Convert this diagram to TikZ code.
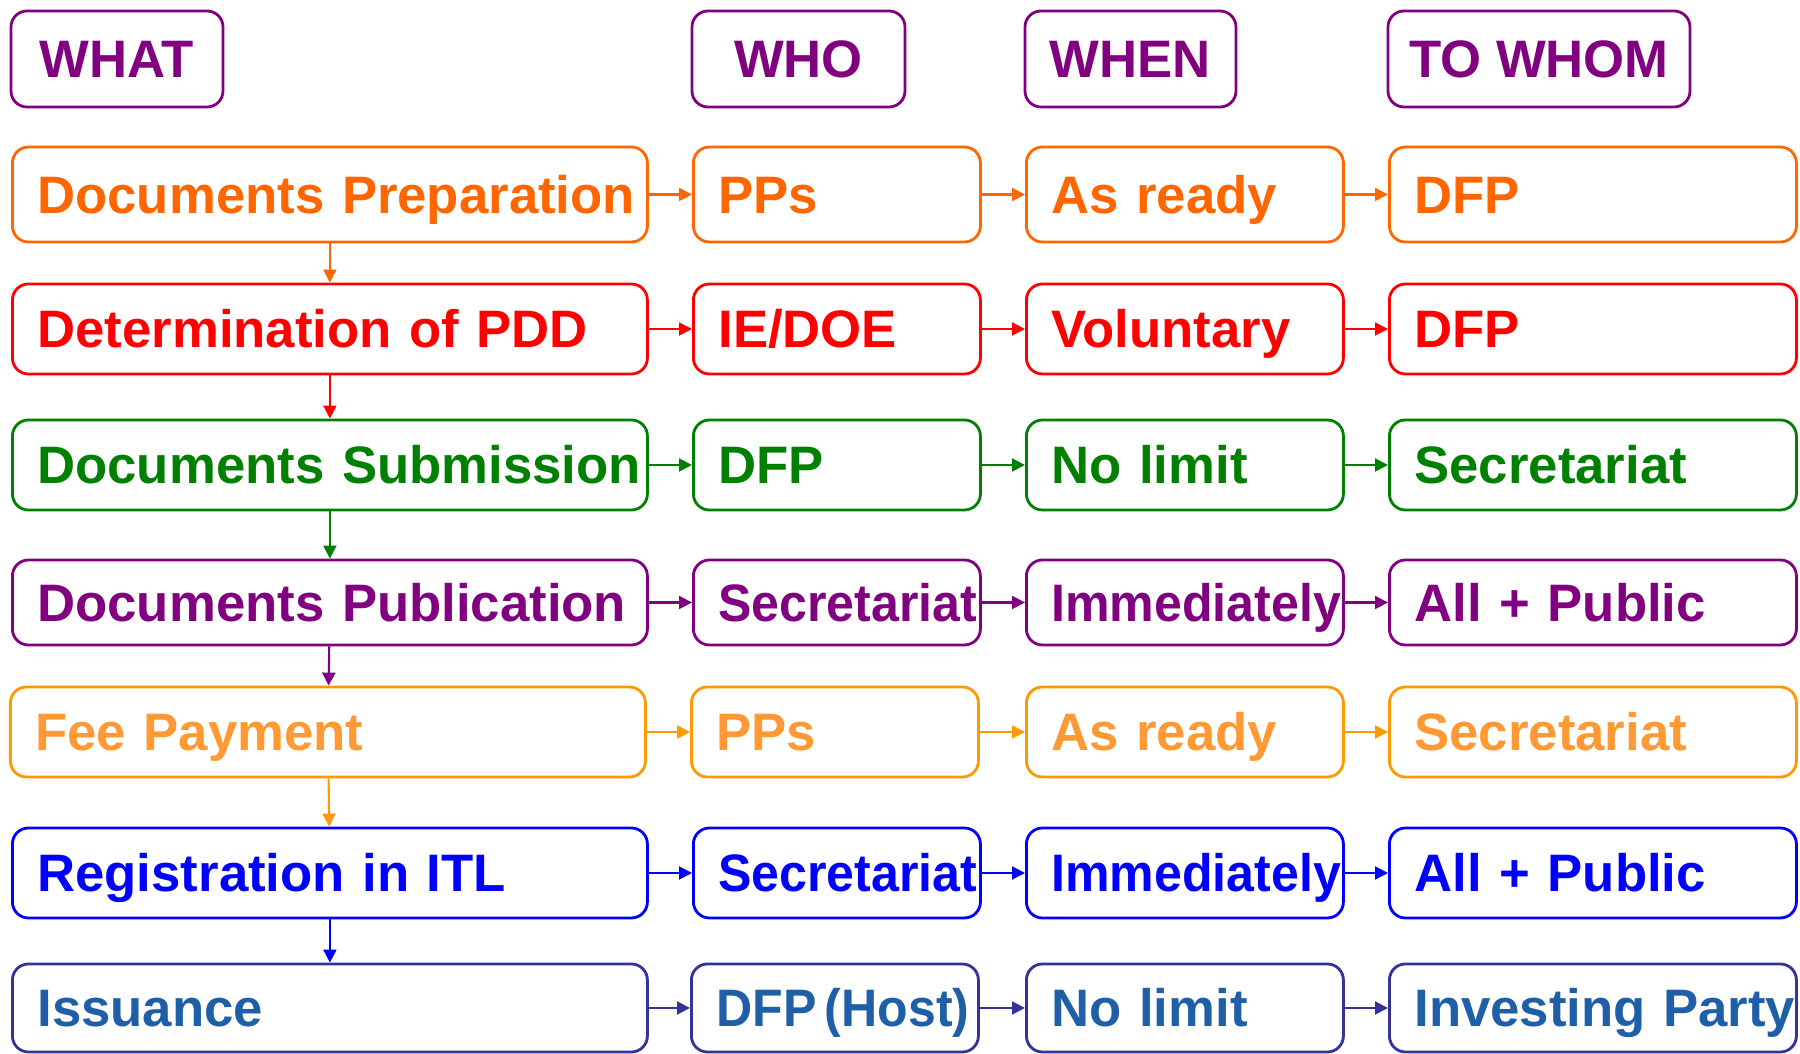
\documentclass[tikz,border=0pt]{standalone}
\usepackage{fontspec}
\setmainfont{Liberation Sans}
\usepackage{graphicx}
\usetikzlibrary{arrows.meta}
\definecolor{hdr}{HTML}{800080}
\definecolor{rowa}{HTML}{FF6600}
\definecolor{rowb}{HTML}{FF0000}
\definecolor{rowc}{HTML}{008000}
\definecolor{rowd}{HTML}{800080}
\definecolor{rowe}{HTML}{FF9900}
\definecolor{rowetext}{HTML}{FF9933}
\definecolor{rowf}{HTML}{0000FF}
\definecolor{rowg}{HTML}{333399}
\definecolor{rowgtext}{HTML}{1F5FA8}
\newcommand{\squeezed}[1]{\scalebox{0.95}[1]{#1}}

\begin{document}
\begin{tikzpicture}[
  box/.style={draw, rounded corners=1.6mm, line width=0.8pt, inner xsep=0.25cm, inner ysep=0pt,
    text height=0.38cm, text depth=0pt, font=\bfseries\fontsize{15}{18}\selectfont},
  headbox/.style={box, inner xsep=0.1cm, draw=hdr, text=hdr, minimum width=#1, minimum height=0.96cm},
  cellbox/.style={box, anchor=west, align=left, text width=#1,
    execute at begin node={\hyphenpenalty=10000}},
  whatcell/.style={cellbox=5.85cm},
  whocell/.style={cellbox=2.37cm},
  whencell/.style={cellbox=2.67cm},
  whomcell/.style={cellbox=3.57cm},
  rowcol/.style 2 args={draw=#1, text=#1, minimum height=#2},
  link/.style={-{Triangle[length=1.3mm,width=1.3mm]}, line width=0.6pt}
]
\useasboundingbox (0,0) rectangle (18,10.54);

\node[headbox=2.12cm] (hwhat) at (1.17,9.95) {WHAT};
\node[headbox=2.13cm] (hwho) at (7.985,9.95) {WHO};
\node[headbox=2.11cm] (hwhen) at (11.305,9.95) {WHEN};
\node[headbox=3.02cm] (hwhom) at (15.39,9.95) {TO WHOM};

\node[whatcell, rowcol={rowa}{0.95cm}] (what1) at (0.11,8.595) {Documents~Preparation};
\node[whocell, rowcol={rowa}{0.95cm}] (who1) at (6.92,8.595) {PPs};
\node[whencell, rowcol={rowa}{0.95cm}] (when1) at (10.25,8.595) {As~ready};
\node[whomcell, rowcol={rowa}{0.95cm}] (whom1) at (13.88,8.595) {DFP};

\node[whatcell, rowcol={rowb}{0.9cm}] (what2) at (0.11,7.25) {Determination~of~PDD};
\node[whocell, rowcol={rowb}{0.9cm}] (who2) at (6.92,7.25) {IE/DOE};
\node[whencell, rowcol={rowb}{0.9cm}] (when2) at (10.25,7.25) {Voluntary};
\node[whomcell, rowcol={rowb}{0.9cm}] (whom2) at (13.88,7.25) {DFP};

\node[whatcell, rowcol={rowc}{0.9cm}] (what3) at (0.11,5.89) {Documents~Submission};
\node[whocell, rowcol={rowc}{0.9cm}] (who3) at (6.92,5.89) {DFP};
\node[whencell, rowcol={rowc}{0.9cm}] (when3) at (10.25,5.89) {No~limit};
\node[whomcell, rowcol={rowc}{0.9cm}] (whom3) at (13.88,5.89) {Secretariat};

\node[whatcell, rowcol={rowd}{0.85cm}] (what4) at (0.11,4.515) {Documents~Publication};
\node[whocell, rowcol={rowd}{0.85cm}] (who4) at (6.92,4.515) {\squeezed{Secretariat}};
\node[whencell, rowcol={rowd}{0.85cm}] (when4) at (10.25,4.515) {\squeezed{Immediately}};
\node[whomcell, rowcol={rowd}{0.85cm}] (whom4) at (13.88,4.515) {All~+~Public};

\node[whatcell, rowcol={rowe}{0.9cm}, text=rowetext] (what5) at (0.09,3.22) {Fee~Payment};
\node[whocell, rowcol={rowe}{0.9cm}, text=rowetext] (who5) at (6.90,3.22) {PPs};
\node[whencell, rowcol={rowe}{0.9cm}, text=rowetext] (when5) at (10.25,3.22) {As~ready};
\node[whomcell, rowcol={rowe}{0.9cm}, text=rowetext] (whom5) at (13.88,3.22) {Secretariat};

\node[whatcell, rowcol={rowf}{0.9cm}] (what6) at (0.11,1.81) {Registration~in~ITL};
\node[whocell, rowcol={rowf}{0.9cm}] (who6) at (6.92,1.81) {\squeezed{Secretariat}};
\node[whencell, rowcol={rowf}{0.9cm}] (when6) at (10.25,1.81) {\squeezed{Immediately}};
\node[whomcell, rowcol={rowf}{0.9cm}] (whom6) at (13.88,1.81) {All~+~Public};

\node[whatcell, rowcol={rowg}{0.88cm}, text=rowgtext] (what7) at (0.11,0.46) {Issuance};
\node[whocell, rowcol={rowg}{0.88cm}, text=rowgtext] (who7) at (6.90,0.46) {\squeezed{DFP\,(Host)}};
\node[whencell, rowcol={rowg}{0.88cm}, text=rowgtext] (when7) at (10.25,0.46) {No~limit};
\node[whomcell, rowcol={rowg}{0.88cm}, text=rowgtext] (whom7) at (13.88,0.46) {Investing~Party};

\foreach \r/\c in {1/rowa,2/rowb,3/rowc,4/rowd,5/rowe,6/rowf,7/rowg} {
  \draw[link,\c] (what\r) -- (who\r);
  \draw[link,\c] (who\r) -- (when\r);
  \draw[link,\c] (when\r) -- (whom\r);
}
\foreach \r/\s/\c in {1/2/rowa,2/3/rowb,3/4/rowc,4/5/rowd,5/6/rowe,6/7/rowf}
  \draw[link,\c] (what\r) -- (what\s);
\end{tikzpicture}
\end{document}
